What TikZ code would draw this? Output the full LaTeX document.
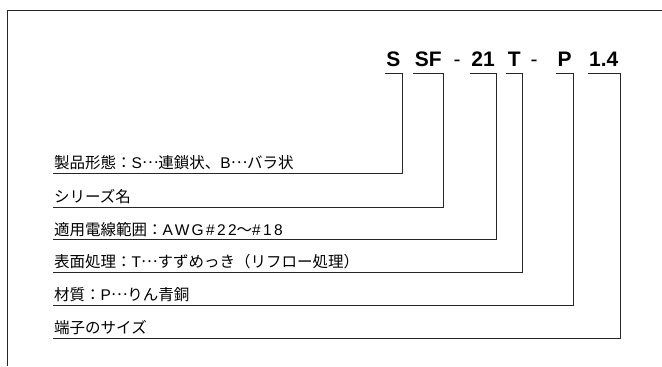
\documentclass[tikz,border=0pt]{standalone}
\usepackage{fontspec}
\setmainfont{Liberation Sans}
\newfontfamily\jpfont{Noto Sans CJK JP}
\usetikzlibrary{positioning}
\newcommand{\lat}[1]{{\rmfamily #1}}
\newcommand{\mdots}{\raisebox{0.3em}{…}}

\begin{document}
\begin{tikzpicture}[x=1pt, y=-1pt,
      code/.style={font=\fontsize{21}{21}\selectfont\bfseries, anchor=base, inner xsep=1.5pt, inner ysep=6.3pt, text depth=0pt},
      hyph/.style={font=\fontsize{21}{21}\selectfont, anchor=base, inner sep=0pt},
      lbl/.style={font=\jpfont\fontsize{15.5}{15.5}\selectfont, anchor=base west, inner xsep=1pt, inner ysep=4.3pt, text depth=0pt},
      lead/.style={line width=0.7pt, black!85}]

      \useasboundingbox (0,0) rectangle (662,367);
      \draw[lead] (7,366) -- (7,10) -- (662,10); % frame

      \node[code] (cS) at (393.3,66.7) {S};
      \node[code] (cSF) at (428.3,66.7) {SF};
      \node[hyph] (h1) at (457,66.7) {-};
      \node[code] (c21) at (483,66.7) {21};
      \node[code] (cT) at (514.2,66.7) {T};
      \node[hyph] (h2) at (534,66.7) {-};
      \node[code] (cP) at (564.5,66.7) {P};
      \node[code] (c14) at (603.8,66.7) {1.4};

      \node[lbl] (form) at (53,168.6) {製品形態：\lat{S}\mdots 連鎖状、\lat{B}\mdots バラ状};
      \node[lbl] (series) at (53,202.4) {シリーズ名};
      \node[lbl] (wire) at (53,235.2) {適用電線範囲：{\rmfamily\addfontfeature{LetterSpace=15}AWG\#22}～{\rmfamily\addfontfeature{LetterSpace=15}\#18}};
      \node[lbl] (plating) at (53,267.5) {表面処理：\lat{T}\mdots すずめっき（リフロー処理）};
      \node[lbl] (material) at (53,300.4) {材質：\lat{P}\mdots りん青銅};
      \node[lbl] (size) at (53,333.7) {端子のサイズ};

      \draw[lead] (cS.south west) -- (cS.south east) -- (cS.south east |- form.south) -- (form.south west);
      \draw[lead] (cSF.south west) -- (cSF.south east) -- (cSF.south east |- series.south) -- (series.south west);
      \draw[lead] (c21.south west) -- (c21.south east) -- (c21.south east |- wire.south) -- (wire.south west);
      \draw[lead] (cT.south west) -- (cT.south east) -- (cT.south east |- plating.south) -- (plating.south west);
      \draw[lead] (cP.south west) -- (cP.south east) -- (cP.south east |- material.south) -- (material.south west);
      \draw[lead] (c14.south west) -- (c14.south east) -- (c14.south east |- size.south) -- (size.south west);
\end{tikzpicture}
\end{document}
